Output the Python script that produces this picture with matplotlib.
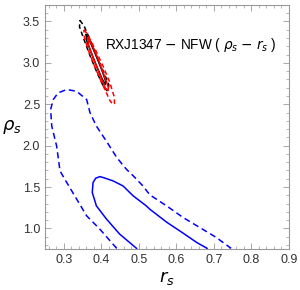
import numpy as np
import matplotlib
matplotlib.use("Agg")
import matplotlib.pyplot as plt
from matplotlib.ticker import MultipleLocator

# contour curves (r_s, rho_s)
blue_dash_x = [0.441, 0.396, 0.361, 0.308, 0.290, 0.281, 0.268, 0.265, 0.272, 0.285,
               0.308, 0.334, 0.361, 0.370, 0.387, 0.414, 0.441, 0.467, 0.485, 0.511,
               0.529, 0.574, 0.618, 0.662, 0.706, 0.746]
blue_dash_y = [0.759, 0.992, 1.152, 1.554, 1.694, 1.995, 2.236, 2.437, 2.557, 2.638,
               2.678, 2.657, 2.557, 2.397, 2.236, 2.051, 1.858, 1.714, 1.636, 1.513,
               1.407, 1.272, 1.132, 1.012, 0.892, 0.759]

blue_solid_x = [0.494, 0.449, 0.414, 0.387, 0.376, 0.378, 0.385, 0.396, 0.407, 0.432,
                0.458, 0.485, 0.520, 0.529, 0.574, 0.618, 0.654, 0.682]
blue_solid_y = [0.759, 0.931, 1.112, 1.272, 1.434, 1.554, 1.606, 1.626, 1.612, 1.573,
                1.513, 1.393, 1.272, 1.233, 1.076, 0.943, 0.831, 0.759]

black_dash_x = [0.343, 0.354, 0.370, 0.388, 0.407, 0.420, 0.419, 0.415, 0.407, 0.391,
                0.372, 0.354, 0.342, 0.343]
black_dash_y = [3.514, 3.448, 3.280, 3.075, 2.882, 2.738, 2.678, 2.665, 2.702, 2.858,
                3.063, 3.280, 3.436, 3.514]

red_dash_x = [0.354, 0.364, 0.383, 0.404, 0.423, 0.435, 0.435, 0.431, 0.423, 0.407,
              0.386, 0.367, 0.355, 0.354]
red_dash_y = [3.400, 3.340, 3.171, 2.967, 2.762, 2.581, 2.509, 2.497, 2.545, 2.702,
              2.918, 3.135, 3.304, 3.400]

black_solid_x = [0.360, 0.370, 0.386, 0.402, 0.412, 0.411, 0.402, 0.386, 0.370, 0.360, 0.360]
black_solid_y = [3.340, 3.255, 3.087, 2.906, 2.774, 2.738, 2.810, 2.979, 3.159, 3.280, 3.340]

red_solid_x = [0.364, 0.375, 0.391, 0.407, 0.419, 0.418, 0.410, 0.394, 0.378, 0.366, 0.364]
red_solid_y = [3.304, 3.219, 3.051, 2.858, 2.702, 2.665, 2.702, 2.882, 3.063, 3.219, 3.304]

plt.rcParams['font.family'] = ['Liberation Sans', 'DejaVu Sans']
plt.rcParams['mathtext.fontset'] = 'dejavusans'

fig = plt.figure(figsize=(3.0, 2.9), dpi=100)
ax = fig.add_axes([0.15, 0.141, 0.813, 0.842])

lw = 1.1
ax.plot(blue_dash_x, blue_dash_y, color='#0000ff', lw=lw, ls=(0, (4, 2.5)))
ax.plot(blue_solid_x, blue_solid_y, color='#0000ff', lw=lw)
ax.plot(black_dash_x, black_dash_y, color='black', lw=lw, ls=(0, (3, 2)))
ax.plot(black_solid_x, black_solid_y, color='black', lw=lw)
ax.plot(red_dash_x, red_dash_y, color='#ff0000', lw=lw, ls=(0, (3, 2)))
ax.plot(red_solid_x, red_solid_y, color='#ff0000', lw=lw)

ax.text(0.41, 3.22, r'RXJ1347 $-$ NFW ( $\rho_s$ $-$ $r_s$ )', fontsize=9.8,
        va='center', ha='left')

ax.set_xlim(0.25, 0.9)
ax.set_ylim(0.75, 3.7)
ax.xaxis.set_major_locator(MultipleLocator(0.1))
ax.xaxis.set_minor_locator(MultipleLocator(0.02))
ax.yaxis.set_major_locator(MultipleLocator(0.5))
ax.yaxis.set_minor_locator(MultipleLocator(0.1))
ax.xaxis.set_major_formatter(plt.FuncFormatter(lambda v, p: f'{v:.1f}'))
ax.yaxis.set_major_formatter(plt.FuncFormatter(lambda v, p: f'{v:.1f}'))

ax.tick_params(which='both', direction='in', top=True, right=True,
               color='#999999', labelsize=9, labelcolor='#333333')
ax.tick_params(which='major', length=4, width=0.6)
ax.tick_params(which='minor', length=2, width=0.5)
for s in ax.spines.values():
    s.set_color('#999999')
    s.set_linewidth(0.8)

ax.set_xlabel(r'$r_s$', fontsize=13, labelpad=2)
ax.set_ylabel(r'$\rho_s$', fontsize=13, rotation=0, labelpad=8, va='center')

fig.savefig('out.png', dpi=100)
